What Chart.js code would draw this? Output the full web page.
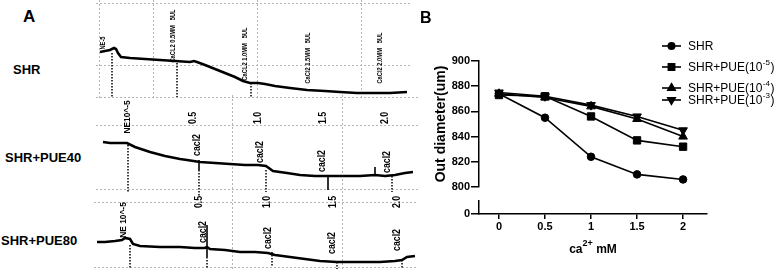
<!DOCTYPE html>
<html>
<head>
<meta charset="utf-8">
<script src="https://cdn.jsdelivr.net/npm/chart.js@4.4.1/dist/chart.umd.min.js"></script>
<style>
  body { margin: 0; background: #fff; }
  #fig { position: relative; width: 778px; height: 269px; overflow: hidden; background: #fff; }
  #fig canvas { position: absolute; }
  .lab { position: absolute; font-family: "Liberation Sans", Arial, sans-serif; font-weight: bold; color: #000; white-space: nowrap; line-height: 1; }
</style>
</head>
<body>
<div id="fig">
  <canvas id="row1" width="316" height="100" style="left:96px;top:0"></canvas>
  <canvas id="row2" width="322" height="105" style="left:96px;top:95px"></canvas>
  <canvas id="row3" width="324" height="74" style="left:94px;top:195px"></canvas>
  <canvas id="upper" width="378" height="200" style="left:400px;top:0"></canvas>
  <canvas id="lower" width="378" height="77" style="left:400px;top:192px"></canvas>
  <div class="lab" style="left:23px;top:8px;font-size:17px">A</div>
  <div class="lab" style="left:420px;top:10px;font-size:16px">B</div>
  <div class="lab" style="left:13px;top:63px;font-size:13px">SHR</div>
  <div class="lab" style="left:5px;top:151px;font-size:13px">SHR+PUE40</div>
  <div class="lab" style="left:1px;top:234px;font-size:13px">SHR+PUE80</div>
</div>
<script>
// ---- panel A: myograph traces (t = time from box start, v = trace level, both in trace units)
var shrT = [1, 6, 11, 15, 17, 19, 22, 31, 46, 61, 76, 91, 95, 98, 106, 116, 126, 136, 144, 151, 159, 166, 176, 191, 208, 226, 241, 258, 276, 291, 308];
var shrV = [45, 46, 47, 49, 48, 44, 40, 39, 38, 37, 36, 35, 36, 35, 32, 28, 24, 20, 16, 14, 14, 13, 11, 9, 7, 6, 5, 4, 4, 4, 5];
var shrMarks = [[13, 44, 0], [78, 34, 0], [152, 14, 0]];
var shrSpikes = [];
var shrNoteText = ["NE-5", "CaCL2 0.5MM   5UL", "CaCL2 1.0MM   5UL", "CaCl2 1.5MM   5UL", "CaCl2 2.0MM   5UL"];
var shrNoteT = [4, 74, 146, 209, 281];
var shrNoteV = [54, 61, 43, 39, 39];
var shrGridT = [0, 54, 158, 262];
var shrGridV = [0, 31, 94];

var pue40T = [4, 11, 21, 28, 36, 51, 66, 81, 88, 101, 116, 131, 146, 159, 167, 174, 188, 201, 216, 229, 246, 261, 276, 286, 296, 306, 314];
var pue40V = [47, 46, 46, 46, 42, 37, 33, 30, 29, 27, 26, 25, 24, 24, 23, 18, 16, 14, 13, 13, 13, 13, 14, 13, 14, 16, 17];
var pue40Marks = [[29, 44, -4], [100, 19, -8], [167, 19, -3], [293, 13, -3]];
var pue40Spikes = [[100, 29, 19], [229, 13, -1], [276, 13, 22]];
var pue40NoteText = ["NE10^-5", "0.5", "1.0", "1.5", "2.0", "cacl2", "cacl2", "cacl2", "cacl2"];
var pue40NoteT = [28, 94, 159, 224, 286, 98, 161, 223, 288];
var pue40NoteV = [72, 71, 71, 71, 71, 44, 37, 28, 27];
var pue40GridT = [133, 243];
var pue40GridV = [0, 64, 92];

var pue80T = [0, 8, 18, 25, 28, 33, 36, 43, 63, 83, 98, 108, 110, 113, 128, 143, 158, 171, 178, 193, 208, 223, 240, 253, 268, 283, 298, 305, 310, 318];
var pue80V = [25, 25, 26, 27, 29, 28, 23, 21, 20, 20, 19, 19, 20, 18, 17, 15, 15, 14, 12, 10, 8, 6, 5, 5, 5, 5, 6, 7, 10, 11];
var pue80Marks = [[33, 22, -2], [110, 10, -2], [175, 15, 0], [240, 5, -2], [305, 7, -2]];
var pue80Spikes = [[110, 42, 10]];
var pue80NoteText = ["NE 10^-5", "0.5", "1.0", "1.5", "2.0", "cacl2", "cacl2", "cacl2", "cacl2"];
var pue80NoteT = [26, 102, 170, 236, 300, 106, 171, 235, 300];
var pue80NoteV = [47, 65, 65, 65, 65, 35, 29, 24, 27];
var pue80GridT = [135, 245];
var pue80GridV = [0, 65];

// ---- panel B: outer diameter vs CaCl2
var caDoses = [0, 0.5, 1, 1.5, 2];
var shrDiam = [874, 855, 824, 810, 806];
var pue5Diam = [873, 872, 856, 837, 832];
var pue4Diam = [874, 871, 864, 854, 840];
var pue3Diam = [875, 872, 865, 856, 845];
var seriesNames = ["SHR", "SHR+PUE(10", "SHR+PUE(10", "SHR+PUE(10"];
var seriesSup = ["", "-5", "-4", "-3"];
var upperTicks = [800, 820, 840, 860, 880, 900];
var lowerTicks = [0, 100];

var FONT = '"Liberation Sans", Arial, sans-serif';
Chart.defaults.font.family = FONT;
Chart.defaults.color = "#000";

var traceDeco = {
  id: "traceDeco",
  afterDatasetsDraw: function (chart) {
    var o = chart.options.plugins.traceDeco;
    var xs = chart.scales.x, ys = chart.scales.y, ctx = chart.ctx;
    ctx.save();
    ctx.strokeStyle = "#000";
    ctx.lineWidth = 1.5;
    ctx.setLineDash([1.5, 1.5]);
    o.marks.forEach(function (m) {
      var x = xs.getPixelForValue(m[0]);
      ctx.beginPath();
      ctx.moveTo(x, ys.getPixelForValue(m[1]));
      ctx.lineTo(x, ys.getPixelForValue(m[2]));
      ctx.stroke();
    });
    ctx.setLineDash([]);
    ctx.lineWidth = 1.6;
    o.spikes.forEach(function (m) {
      var x = xs.getPixelForValue(m[0]);
      ctx.beginPath();
      ctx.moveTo(x, ys.getPixelForValue(m[1]));
      ctx.lineTo(x, ys.getPixelForValue(m[2]));
      ctx.stroke();
    });
    ctx.fillStyle = "#000";
    o.text.forEach(function (txt, i) {
      ctx.save();
      ctx.translate(xs.getPixelForValue(o.t[i]), ys.getPixelForValue(o.v[i]));
      ctx.rotate(-Math.PI / 2);
      ctx.scale(o.squash, 1);
      ctx.font = (txt.indexOf("NE") === 0 ? o.neFont : o.font) + " " + FONT;
      ctx.textAlign = "center";
      ctx.textBaseline = "middle";
      ctx.fillText(txt, 0, 0);
      ctx.restore();
    });
    ctx.restore();
  }
};

function makeTrace(id, t, v, xMin, xMax, yMin, yMax, gridT, gridV, deco) {
  var gridStyle = { color: "#b4b4b4", lineWidth: 1, drawTicks: false };
  new Chart(document.getElementById(id), {
    type: "line",
    data: {
      datasets: [{
        data: t.map(function (x, i) { return { x: x, y: v[i] }; }),
        borderColor: "#000",
        borderWidth: 2.6,
        pointRadius: 0,
        tension: 0
      }]
    },
    options: {
      responsive: false,
      animation: false,
      events: [],
      layout: { autoPadding: false, padding: 0 },
      plugins: { legend: { display: false }, tooltip: { enabled: false }, traceDeco: deco },
      scales: {
        x: {
          type: "linear", min: xMin, max: xMax,
          ticks: { display: false }, grid: gridStyle,
          border: { display: false, dash: [2, 2] },
          afterBuildTicks: function (s) { s.ticks = gridT.map(function (g) { return { value: g }; }); }
        },
        y: {
          type: "linear", min: yMin, max: yMax,
          ticks: { display: false }, grid: gridStyle,
          border: { display: false, dash: [2, 2] },
          afterBuildTicks: function (s) { s.ticks = gridV.map(function (g) { return { value: g }; }); }
        }
      }
    },
    plugins: [traceDeco]
  });
}

makeTrace("row1", shrT, shrV, -3, 313, -3, 97, shrGridT, shrGridV,
  { marks: shrMarks, spikes: shrSpikes, text: shrNoteText, t: shrNoteT, v: shrNoteV, font: "bold 8px", neFont: "bold 8px", squash: 0.72 });
makeTrace("row2", pue40T, pue40V, -3, 319, -11, 94, pue40GridT, pue40GridV,
  { marks: pue40Marks, spikes: pue40Spikes, text: pue40NoteText, t: pue40NoteT, v: pue40NoteV, font: "bold 10px", neFont: "bold 9.5px", squash: 0.88 });
makeTrace("row3", pue80T, pue80V, -3, 321, -2, 72, pue80GridT, pue80GridV,
  { marks: pue80Marks, spikes: pue80Spikes, text: pue80NoteText, t: pue80NoteT, v: pue80NoteV, font: "bold 10px", neFont: "bold 9.5px", squash: 0.88 });

// ---- panel B
var xMin = -0.217, xMax = 2.26;
var styles = [["circle", 3.8, 0], ["rect", 5.2, 0], ["triangle", 5, 0], ["triangle", 5, 180]];

function pts(vals) { return caDoses.map(function (d, i) { return { x: d, y: vals[i] }; }); }

var diamSets = [shrDiam, pue5Diam, pue4Diam, pue3Diam].map(function (vals, i) {
  return {
    label: seriesNames[i] + seriesSup[i],
    data: pts(vals),
    borderColor: "#000",
    backgroundColor: "#000",
    borderWidth: 1.6,
    pointStyle: styles[i][0],
    pointRadius: styles[i][1],
    pointRotation: styles[i][2],
    pointBorderWidth: 1,
    tension: 0
  };
});

var legendB = {
  id: "legendB",
  afterDraw: function (chart) {
    var ctx = chart.ctx;
    var rowsY = [46, 67, 88, 100];
    ctx.save();
    diamSets.forEach(function (ds, i) {
      var y = rowsY[i];
      ctx.strokeStyle = "#000";
      ctx.lineWidth = 1.6;
      ctx.beginPath();
      ctx.moveTo(262, y);
      ctx.lineTo(281, y);
      ctx.stroke();
      ctx.fillStyle = "#000";
      Chart.helpers.drawPoint(ctx, { pointStyle: ds.pointStyle, radius: ds.pointRadius * 0.85, rotation: ds.pointRotation, borderWidth: 1 }, 271.5, y);
      ctx.textBaseline = "middle";
      ctx.textAlign = "left";
      ctx.font = "12px " + FONT;
      ctx.fillText(seriesNames[i], 288, y + 1);
      if (seriesSup[i]) {
        var w = ctx.measureText(seriesNames[i]).width;
        ctx.font = "8px " + FONT;
        ctx.fillText(seriesSup[i], 288 + w + 0.5, y - 4);
        var w2 = ctx.measureText(seriesSup[i]).width;
        ctx.font = "12px " + FONT;
        ctx.fillText(")", 288 + w + w2 + 1, y + 1);
      }
    });
    ctx.restore();
  }
};

var axisTick = { drawOnChartArea: false, tickLength: 8, color: "#000", lineWidth: 1.5 };

new Chart(document.getElementById("upper"), {
  type: "line",
  data: { datasets: diamSets },
  options: {
    responsive: false,
    animation: false,
    events: [],
    layout: { autoPadding: false, padding: { top: 61, bottom: 13, left: 0, right: 71 } },
    plugins: { legend: { display: false }, tooltip: { enabled: false } },
    scales: {
      x: { type: "linear", display: false, min: xMin, max: xMax },
      y: {
        type: "linear", min: 800, max: 900,
        afterBuildTicks: function (s) { s.ticks = upperTicks.map(function (v) { return { value: v }; }); },
        afterFit: function (s) { s.width = 79; },
        ticks: { font: { weight: "bold", size: 11 }, color: "#000", padding: 1 },
        grid: axisTick,
        border: { color: "#000", width: 1.5 },
        title: { display: true, text: "Out diameter(um)", color: "#000", font: { weight: "bold", size: 14 }, padding: { top: 33, bottom: 0 } }
      }
    }
  },
  plugins: [legendB]
});

var xTitle = {
  id: "xTitle",
  afterDraw: function (chart) {
    var ctx = chart.ctx, a = chart.chartArea;
    var parts = [["ca", 12, 0], ["2+", 9, -7], [" mM", 12, 0]];
    ctx.save();
    ctx.fillStyle = "#000";
    ctx.textBaseline = "alphabetic";
    ctx.textAlign = "left";
    var total = 0;
    parts.forEach(function (p) { ctx.font = "bold " + p[1] + "px " + FONT; p.push(ctx.measureText(p[0]).width); total += p[3]; });
    var x = (a.left + a.right) / 2 - total / 2;
    var base = 61;
    parts.forEach(function (p) {
      ctx.font = "bold " + p[1] + "px " + FONT;
      ctx.fillText(p[0], x, base + p[2]);
      x += p[3];
    });
    ctx.restore();
  }
};

new Chart(document.getElementById("lower"), {
  type: "line",
  data: { datasets: [] },
  options: {
    responsive: false,
    animation: false,
    events: [],
    layout: { autoPadding: false, padding: { top: 9, bottom: 0, left: 0, right: 71 } },
    plugins: { legend: { display: false }, tooltip: { enabled: false } },
    scales: {
      x: {
        type: "linear", min: xMin, max: xMax,
        afterBuildTicks: function (s) { s.ticks = caDoses.map(function (v) { return { value: v }; }); },
        afterFit: function (s) { s.height = 55; },
        ticks: { font: { weight: "bold", size: 11 }, color: "#000", padding: 1, maxRotation: 0,
                 callback: function (v) { return String(v); } },
        grid: { drawOnChartArea: false, tickLength: 5, color: "#000", lineWidth: 1.5 },
        border: { color: "#000", width: 1.5 }
      },
      y: {
        type: "linear", min: 0, max: 100,
        afterBuildTicks: function (s) { s.ticks = lowerTicks.map(function (v) { return { value: v }; }); },
        afterFit: function (s) { s.width = 79; },
        ticks: { font: { weight: "bold", size: 11 }, color: "#000", padding: 1 },
        grid: axisTick,
        border: { color: "#000", width: 1.5 }
      }
    }
  },
  plugins: [xTitle]
});
</script>
</body>
</html>
